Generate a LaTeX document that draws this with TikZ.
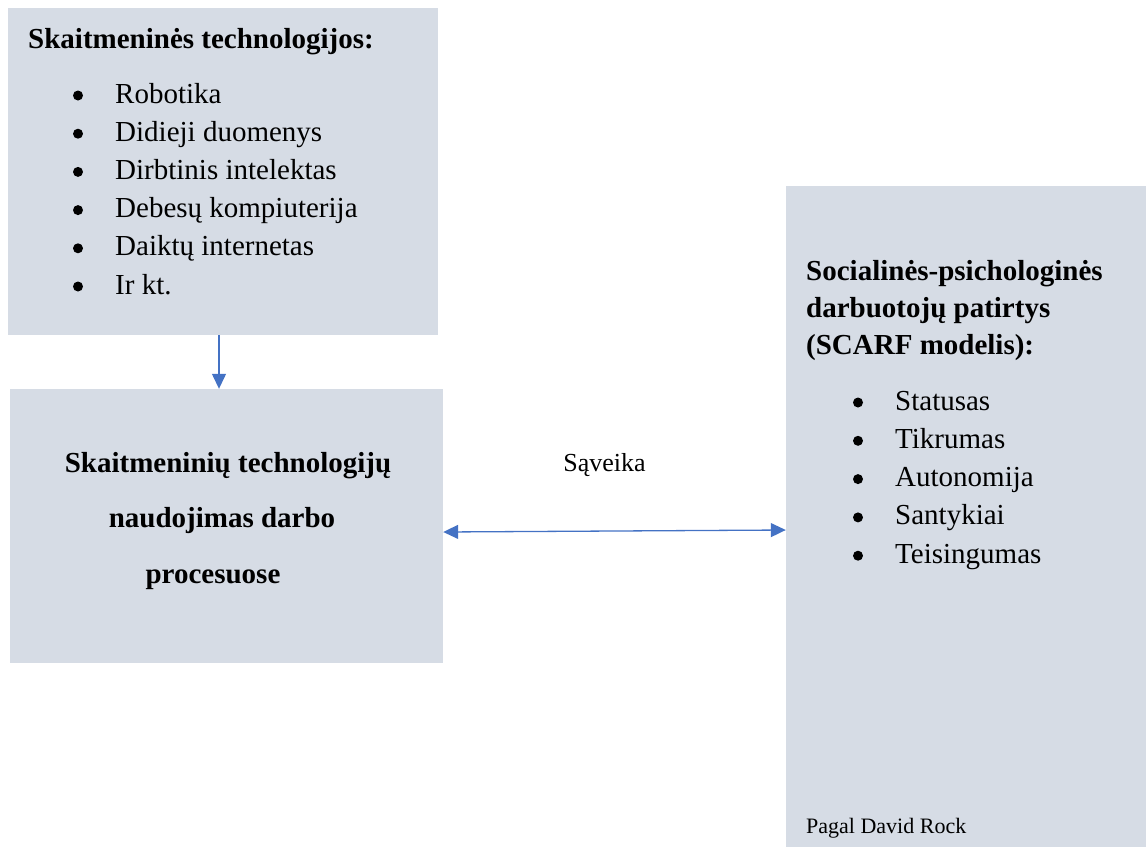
\documentclass[tikz,border=0pt]{standalone}
\usepackage{fontspec}
\setmainfont{Liberation Serif}
\usetikzlibrary{arrows.meta}
\definecolor{boxfill}{RGB}{214,220,229}
\definecolor{arrowblue}{RGB}{68,114,196}
\begin{document}
\begin{tikzpicture}[x=1pt,y=-1pt,
  panel/.style={fill=boxfill, draw=none, inner sep=0pt, rectangle},
  txt/.style={inner sep=0pt, anchor=base west, font=\fontsize{29}{35}\selectfont},
  btxt/.style={txt, font=\fontsize{29}{35}\selectfont\bfseries},
  ctxt/.style={inner sep=0pt, anchor=base, font=\fontsize{29}{35}\selectfont\bfseries},
  dot/.style={circle, fill=black, inner sep=0pt, minimum size=10pt},
  link/.style={draw=arrowblue, line width=1.3pt, -{Triangle[length=15pt,width=14pt]}},
  dlink/.style={draw=arrowblue, line width=1.3pt, {Triangle[length=15pt,width=14pt]}-{Triangle[length=15pt,width=14pt]}}]
\useasboundingbox (0,0) rectangle (1146,847);

% panels
\node[panel, minimum width=430pt, minimum height=327pt] (tech) at (223,171.5) {};
\node[panel, minimum width=433pt, minimum height=274pt] (use) at (226.5,526) {};
\node[panel, minimum width=360pt, minimum height=661pt] (scarf) at (966,516.5) {};

% digital technologies
\node[btxt] (techtitle) at (28,48) {Skaitmeninės technologijos:};
\foreach \t [count=\i] in {Robotika, Didieji duomenys, Dirbtinis intelektas,
                          Debesų kompiuterija, Daiktų internetas, Ir kt.} {
  \node[dot] (tb\i) at (78,{103+38.2*(\i-1)-7.5}) {};
  \node[txt] (tt\i) at (115,{103+38.2*(\i-1)}) {\t};
}

% usage in work processes
\node[ctxt] (u1) at (228,472) {Skaitmeninių technologijų};
\node[ctxt] (u2) at (222,527.5) {naudojimas darbo};
\node[ctxt] (u3) at (213,583) {procesuose};

% SCARF model
\node[btxt] (s1) at (806,280) {Socialinės-psichologinės};
\node[btxt] (s2) at (806,317) {darbuotojų patirtys};
\node[btxt] (s3) at (806,354) {(SCARF modelis):};
\foreach \t [count=\i] in {Statusas, Tikrumas, Autonomija, Santykiai, Teisingumas} {
  \node[dot] (sb\i) at (858,{410+38.3*(\i-1)-7.5}) {};
  \node[txt] (st\i) at (895,{410+38.3*(\i-1)}) {\t};
}
\node[inner sep=0pt, anchor=base west, font=\fontsize{22}{26}\selectfont] (src) at (806,833) {Pagal David Rock};

% connectors
\draw[link] ([xshift=-4pt]tech.south) -- ([xshift=-4pt]tech.south |- use.north);
\draw[dlink] ([yshift=-6pt]use.east) -- ([yshift=-13.5pt]scarf.west);
\node[inner sep=0pt, anchor=base, font=\fontsize{26}{30}\selectfont] (sav) at (604.5,471) {Sąveika};
\end{tikzpicture}
\end{document}
